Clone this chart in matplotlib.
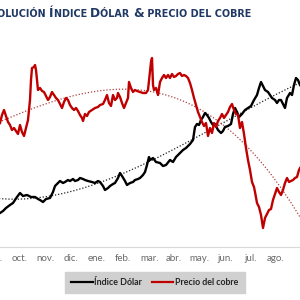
import numpy as np
import matplotlib
matplotlib.use("Agg")
import matplotlib.pyplot as plt
from matplotlib.lines import Line2D

# ---- data (x = trading-day position, value = relative level) ----
month_labels = ['sep.', 'oct.', 'nov.', 'dic.', 'ene.', 'feb.', 'mar.',
                'abr.', 'may.', 'jun.', 'jul.', 'ago.']
month_pos = [-5.6, 20, 45.6, 71.2, 96.8, 122.4, 150, 173.6, 199.2, 224.8, 250.4, 276]

dollar_x = [0, 3, 6, 10, 13, 17, 20, 23, 27, 31, 35, 38, 40, 43, 46, 50, 53, 55, 58, 60,
            63, 65, 68, 70, 73, 75, 78, 80, 83, 85, 88, 92, 95, 98, 100, 103, 105, 108, 110,
            113, 115, 118, 120, 122, 125, 127, 130, 133, 135, 138, 140, 143, 145, 147, 149,
            150, 153, 156, 160, 163, 166, 170, 173, 176, 180, 183, 186, 190, 193, 195, 197,
            199, 201, 203, 205, 207, 209, 211, 213, 215, 218, 221, 223, 225, 228, 231, 233,
            235, 237, 239, 242, 245, 248, 251, 254, 257, 259, 261, 263, 265, 268, 270, 272,
            275, 277, 279, 281, 283, 285, 287, 290, 292, 294, 296, 298, 300]
dollar_v = [37, 39, 42, 45, 47, 53, 57, 54, 55, 53, 53, 51, 50, 48, 51, 52, 58, 64, 67, 69,
            67, 68, 70, 69, 71, 69, 70, 72, 71, 70, 69, 68, 67, 69, 68, 64, 60, 62, 64,
            66, 67, 72, 77, 74, 69, 65, 67, 68, 70, 71, 72, 75, 78, 85, 93,
            90, 92, 88, 87, 84, 85, 90, 88, 93, 97, 100, 102, 106, 110, 123, 126,
            125, 130, 133, 137, 135, 132, 128, 125, 126, 120, 117, 119, 123, 124, 126, 136,
            142, 138, 133, 136, 140, 142, 144, 150, 155, 162, 168, 164, 160, 158, 155, 152,
            150, 147, 150, 150, 146, 142, 152, 157, 155, 165, 172, 170, 165]

copper_x = [0, 2, 4, 6, 8, 10, 12, 14, 16, 18, 20, 22, 24, 26, 28, 30, 31, 32, 34, 35, 36,
            37, 38, 40, 42, 44, 46, 48, 50, 52, 54, 56, 58, 60, 62, 64, 66, 68, 70, 72, 74,
            76, 78, 80, 82, 83, 85, 87, 89, 92, 95, 98, 100, 103, 105, 107, 109, 111, 113,
            115, 117, 118, 120, 122, 124, 126, 128, 129, 131, 133, 135, 137, 140, 143, 146,
            148, 150, 151, 152, 153, 154, 156, 158, 160, 162, 164, 166, 168, 170, 172, 174,
            176, 178, 180, 182, 184, 186, 188, 190, 192, 194, 196, 198, 200, 202, 204, 206,
            208, 210, 212, 214, 216, 218, 220, 222, 224, 226, 228, 230, 232, 234, 236, 238,
            240, 242, 244, 246, 248, 250, 252, 254, 255, 257, 259, 261, 263, 265, 267, 269,
            271, 273, 275, 277, 279, 281, 283, 285, 287, 289, 291, 293, 295, 297, 299, 300]
copper_v = [127, 135, 140, 134, 128, 125, 120, 122, 119, 116, 125, 118, 114, 122, 130, 150,
            170, 182, 183, 185, 180, 170, 160, 162, 159, 158, 154, 150, 153, 158, 155, 152,
            150, 146, 142, 148, 152, 150, 145, 142, 140, 142, 139, 135, 132, 129, 136, 134,
            138, 140, 142, 143, 145, 146, 150, 155, 147, 144, 155, 150, 152, 157, 153, 147,
            142, 147, 152, 168, 162, 158, 160, 159, 158, 157, 157, 160, 178, 188, 192, 165,
            160, 162, 155, 168, 172, 175, 172, 175, 172, 176, 173, 174, 176, 177, 174, 175,
            174, 172, 167, 160, 152, 145, 138, 133, 128, 124, 127, 114, 122, 117, 127, 123,
            129, 132, 136, 132, 135, 138, 143, 146, 140, 136, 135, 122, 128, 116, 102, 90,
            80, 68, 63, 58, 47, 43, 35, 22, 32, 36, 40, 41, 50, 56, 62, 58, 55, 60, 67, 72,
            68, 69, 70, 72, 73, 80, 82]

series_names = ['Índice Dólar', 'Precio del cobre']
title_parts = [('OLUCIÓN ', 'small'), ('Í', 'big'), ('NDICE ', 'small'), ('D', 'big'),
               ('ÓLAR ', 'small'), ('&', 'big'), (' PRECIO DEL COBRE', 'small')]

# ---- figure ----
W, H = 300, 300
fig = plt.figure(figsize=(3, 3), dpi=100)
fig.patch.set_facecolor('white')

top_px, bot_px = 30, 247
ax = fig.add_axes([-10 / W, 1 - bot_px / H, 320 / W, (bot_px - top_px) / H])
ax.set_xlim(-10, 310)
ax.set_ylim(3, 220)
ax.patch.set_alpha(0)
for s in ['top', 'left', 'right']:
    ax.spines[s].set_visible(False)
ax.spines['bottom'].set_color('#d9d9d9')
ax.spines['bottom'].set_linewidth(0.8)
ax.set_yticks([])
ax.set_xticks(month_pos)
ax.set_xticklabels(month_labels, fontsize=7, color='#6a6a6a', family='Lato')
ax.tick_params(axis='x', length=0, pad=5)

black = '#000000'
red = '#c00000'

# trend lines (polynomial fits of the series)
xx = np.linspace(-10, 310, 300)
bt = np.polyval(np.polyfit(dollar_x, dollar_v, 3), xx)
rt = np.polyval(np.polyfit(copper_x, copper_v, 3), xx)
ax.plot(xx, bt, ls=(0, (1, 1.5)), color='#222222', lw=0.9)
ax.plot(xx, rt, ls=(0, (1, 1.5)), color='#b04040', lw=0.9)

ax.plot(dollar_x, dollar_v, color=black, lw=1.7, solid_joinstyle='round')
ax.plot(copper_x, copper_v, color=red, lw=1.7, solid_joinstyle='round')

# legend
handles = [Line2D([], [], color=black, lw=1.6), Line2D([], [], color=red, lw=1.6)]
leg = fig.legend(handles, series_names, loc='center', ncol=2,
                 bbox_to_anchor=(155 / W, 1 - 282.5 / H),
                 prop={'family': 'Lato', 'weight': 'bold', 'size': 6.4},
                 frameon=True, fancybox=False, handlelength=2.4, handletextpad=0.2,
                 columnspacing=1.1, borderpad=0.7)
leg.get_frame().set_facecolor('#d0d0d0')
leg.get_frame().set_edgecolor('#d0d0d0')
leg.get_frame().set_alpha(1)
for t in leg.get_texts():
    t.set_color('#262626')

# title in small caps, built from pieces
fig.canvas.draw()
renderer = fig.canvas.get_renderer()
x = -3 / W
y = 1 - 17 / H
title_color = '#1f3864'
for txt, kind in title_parts:
    size = 8.8 if kind == 'big' else 6.9
    t = fig.text(x, y, txt, fontsize=size, fontweight='bold', color=title_color,
                 family='DejaVu Sans', ha='left', va='baseline')
    bb = t.get_window_extent(renderer=renderer)
    x += bb.width / W

fig.savefig('out.png', dpi=100)
